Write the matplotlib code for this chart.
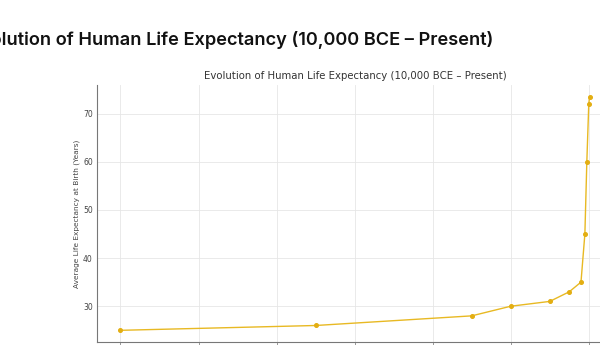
import matplotlib
matplotlib.use("Agg")
import matplotlib.pyplot as plt

# Milestones: year (negative = BCE) and average life expectancy at birth
years = [-10000, -5000, -1000, 0, 1000, 1500, 1800, 1900, 1950, 2000, 2020]
life_expectancy = [25, 26, 28, 30, 31, 33, 35, 45, 60, 72, 73.5]
year_ticks = [-10000, -8000, -6000, -4000, -2000, 0, 2000]

title = "Evolution of Human Life Expectancy (10,000 BCE \u2013 Present)"
line_color = "#E8B923"

fig = plt.figure(figsize=(6.0, 3.45), dpi=100)

# page heading above the plot
fig.text(0.822, 0.885, title, ha="right", va="center",
         fontsize=13.1, fontweight="semibold", family=["Inter", "DejaVu Sans"],
         color="#111111")

ax = fig.add_axes([0.1617, 0.0087, 0.86, 0.745])
ax.plot(years, life_expectancy, color=line_color, linewidth=1.0,
        marker="o", markersize=2.6, markerfacecolor="#E3AE12",
        markeredgecolor="#E3AE12")

ax.set_title(title, fontsize=7.3, color="#333333", pad=4)
ax.set_ylabel("Average Life Expectancy at Birth (Years)", fontsize=5.35,
              color="#444444", labelpad=2.5)
ax.set_xticks(year_ticks)
ax.set_yticks([30, 40, 50, 60, 70])

ax.grid(True, color="#e6e6e6", linewidth=0.6)
ax.set_axisbelow(True)
ax.tick_params(axis="y", length=0, labelsize=5.5, labelcolor="#444444", pad=3)
# year labels sit below the visible strip of the page
ax.tick_params(axis="x", length=3, width=0.6, color="#888888",
               labelsize=5.5, labelcolor="#444444", pad=4)
for side in ("top", "right"):
    ax.spines[side].set_visible(False)
for side in ("left", "bottom"):
    ax.spines[side].set_color("#777777")
    ax.spines[side].set_linewidth(0.8)

fig.savefig("out.png", dpi=100)
